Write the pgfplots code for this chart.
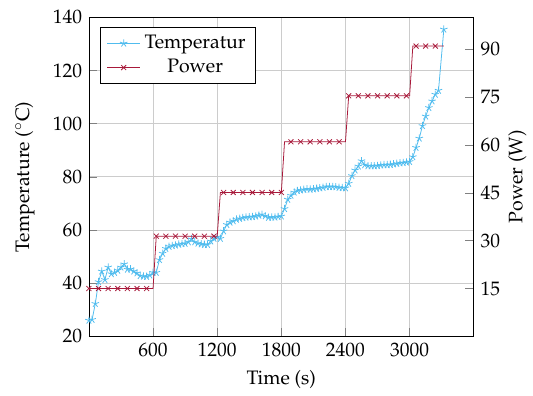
\documentclass[border=0pt]{standalone}
\usepackage[T1]{fontenc}
\usepackage{mathpazo}
\usepackage{pgfplots}
\pgfplotsset{compat=1.18}
\definecolor{tempc}{RGB}{80,188,238}
\definecolor{powc}{RGB}{168,25,58}

\pgfplotstableread{
t T
0 26.0
30 26.3
60 32.3
90 40.5
120 44.5
150 41.3
180 46.0
210 43.5
240 44.0
270 44.8
300 46.0
330 47.2
360 45.2
390 45.3
420 44.5
450 43.8
480 42.8
510 42.6
540 42.5
570 43.0
600 44.0
630 44.0
660 48.8
690 51.2
720 53.0
750 53.8
780 54.1
810 54.3
840 54.6
870 54.8
900 54.9
930 55.5
960 56.6
990 55.5
1020 55.0
1050 54.7
1080 54.5
1110 54.5
1140 55.8
1170 56.8
1200 57.4
1230 56.8
1260 59.6
1290 62.0
1320 62.9
1350 63.4
1380 64.0
1410 64.3
1440 64.6
1470 64.8
1500 64.9
1530 65.0
1560 65.2
1590 65.5
1620 65.8
1650 65.3
1680 64.7
1710 64.8
1740 64.8
1770 65.0
1800 65.2
1830 68.0
1860 71.5
1890 73.0
1920 74.2
1950 74.8
1980 75.0
2010 75.2
2040 75.4
2070 75.3
2100 75.4
2130 75.6
2160 75.8
2190 76.0
2220 76.3
2250 76.3
2280 76.3
2310 76.2
2340 76.0
2370 75.9
2400 75.8
2430 77.5
2460 80.4
2490 82.5
2520 84.0
2550 86.0
2580 84.5
2610 84.1
2640 84.1
2670 84.1
2700 84.2
2730 84.4
2760 84.5
2790 84.5
2820 84.6
2850 84.8
2880 85.0
2910 85.2
2940 85.3
2970 85.5
3000 85.7
3030 87.5
3060 91.0
3090 94.5
3120 99.2
3150 102.8
3180 106.0
3210 108.5
3240 111.0
3270 112.5
3320 135.5
}\temptable

\pgfplotstableread{
t P
0 15
30 15
60 15
90 15
120 15
150 15
180 15
210 15
240 15
270 15
300 15
330 15
360 15
390 15
420 15
450 15
480 15
510 15
540 15
570 15
600 15
630 31.4
660 31.4
690 31.4
720 31.4
750 31.4
780 31.4
810 31.4
840 31.4
870 31.4
900 31.4
930 31.4
960 31.4
990 31.4
1020 31.4
1050 31.4
1080 31.4
1110 31.4
1140 31.4
1170 31.4
1200 31.4
1230 45.1
1260 45.1
1290 45.1
1320 45.1
1350 45.1
1380 45.1
1410 45.1
1440 45.1
1470 45.1
1500 45.1
1530 45.1
1560 45.1
1590 45.1
1620 45.1
1650 45.1
1680 45.1
1710 45.1
1740 45.1
1770 45.1
1800 45.1
1830 61
1860 61
1890 61
1920 61
1950 61
1980 61
2010 61
2040 61
2070 61
2100 61
2130 61
2160 61
2190 61
2220 61
2250 61
2280 61
2310 61
2340 61
2370 61
2400 61
2430 75.4
2460 75.4
2490 75.4
2520 75.4
2550 75.4
2580 75.4
2610 75.4
2640 75.4
2670 75.4
2700 75.4
2730 75.4
2760 75.4
2790 75.4
2820 75.4
2850 75.4
2880 75.4
2910 75.4
2940 75.4
2970 75.4
3000 75.4
3030 91
3060 91
3090 91
3120 91
3150 91
3180 91
3210 91
3240 91
3270 91
3320 91
}\powtable

\begin{document}
\begin{tikzpicture}
\begin{axis}[
  scale only axis,
  width=197.5pt, height=163.7pt,
  xmin=0, xmax=3600,
  ymin=20, ymax=140,
  xtick={600,1200,1800,2400,3000},
  ytick={20,40,60,80,100,120,140},
  xtick pos=bottom,
  ytick pos=left,
  grid=major,
  major grid style={gray!40},
  xlabel={Time (s)},
  ylabel={Temperature ($^\circ$C)},
  ylabel style={at={([xshift=-24.3pt]rel axis cs:0,0.5)}, anchor=south},
  scaled x ticks=false,
  xticklabel style={/pgf/number format/1000 sep={}},
]
\addplot[color=tempc, mark=star, mark size=2pt] table[x=t,y=T] {\temptable};
\end{axis}
\begin{axis}[
  scale only axis,
  width=197.5pt, height=163.7pt,
  xmin=0, xmax=3600,
  ymin=0, ymax=100,
  axis x line=none,
  axis y line*=right,
  ytick={15,30,45,60,75,90},
  ylabel={Power (W)},
  ylabel style={at={([xshift=14.2pt]rel axis cs:1,0.5)}, anchor=north},
  legend pos=north west,
  legend cell align=center,
  legend style={draw=black, fill=white},
]
\addlegendimage{color=tempc, mark=star, mark size=2pt}
\addlegendentry{Temperatur}
\addplot[color=powc, mark=x, mark size=1.8pt, mark repeat=3] table[x=t,y=P] {\powtable};
\addlegendentry{Power}
\end{axis}
\path ([xshift=-4.4pt,yshift=2pt]current bounding box.north west);
\end{tikzpicture}
\end{document}
